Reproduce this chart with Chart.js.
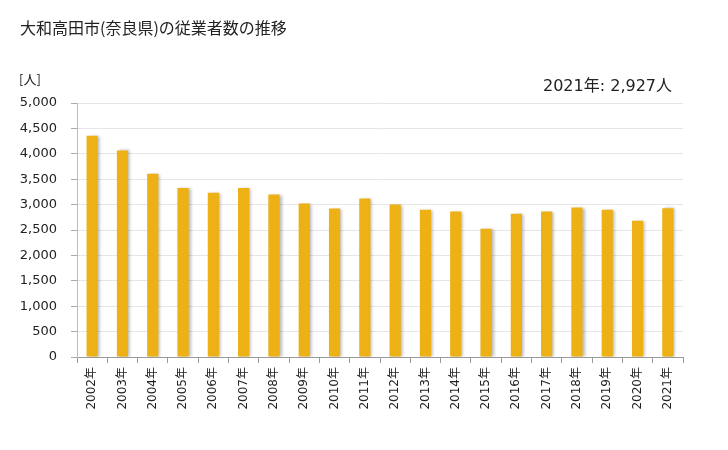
<!DOCTYPE html>
<html><head><meta charset="utf-8">
<script src="https://cdn.jsdelivr.net/npm/chart.js@4.4.1/dist/chart.umd.min.js"></script>
<style>html,body{margin:0;padding:0;background:#fff}#wrap{width:728px;height:450px;position:relative}</style>
</head><body><div id="wrap"><canvas id="c" width="728" height="450"></canvas></div>
<script>
const years = ["2002年","2003年","2004年","2005年","2006年","2007年","2008年","2009年","2010年","2011年","2012年","2013年","2014年","2015年","2016年","2017年","2018年","2019年","2020年","2021年"];
const workers = [4354,4065,3605,3328,3235,3328,3198,3020,2921,3119,3000,2901,2862,2526,2822,2862,2941,2901,2684,2927];
const titleText = "大和高田市(奈良県)の従業者数の推移";
const unitText = "[人]";
const noteText = "2021年: 2,927人";
const yMax = 5000, yStep = 500;

const jp = "'Noto Sans CJK JP', 'DejaVu Sans', sans-serif";
const mixed = "'DejaVu Sans', 'Noto Sans CJK JP', sans-serif";
const textPlugin = {
  id: 'texts',
  afterDraw(chart) {
    const ctx = chart.ctx;
    ctx.save();
    ctx.fillStyle = '#222';
    ctx.textBaseline = 'middle';
    ctx.font = "16px " + jp;
    ctx.textAlign = 'left';
    ctx.fillText(titleText, 20, 28);
    ctx.font = "13px " + jp;
    ctx.fillText(unitText, 19, 79);
    ctx.font = "16px " + mixed;
    ctx.textAlign = 'right';
    ctx.fillText(noteText, 672, 87);
    ctx.restore();
  }
};
const shadowPlugin = {
  id: 'shadow',
  beforeDatasetDraw(chart) {
    const ctx = chart.ctx;
    ctx.save();
    ctx.shadowColor = 'rgba(0,0,0,0.28)';
    ctx.shadowBlur = 3;
    ctx.shadowOffsetX = 2;
    ctx.shadowOffsetY = 0;
  },
  afterDatasetDraw(chart) { chart.ctx.restore(); }
};

new Chart(document.getElementById('c'), {
  type: 'bar',
  data: { labels: years, datasets: [{ data: workers, backgroundColor: '#edb015', borderWidth: 0, barPercentage: 0.74, categoryPercentage: 0.5 }] },
  options: {
    responsive: false, animation: false,
    layout: { padding: { left: 0, right: 45, top: 103, bottom: 0 } },
    plugins: { legend: { display: false }, tooltip: { enabled: false } },
    scales: {
      x: {
        grid: { display: true, drawOnChartArea: false, drawTicks: true, tickLength: 6, color: '#999' },
        border: { color: '#999' },
        ticks: { maxRotation: 90, minRotation: 90, color: '#222', font: { family: mixed, size: 12 }, padding: 4, autoSkip: false },
        afterFit(s) { s.height = 93; }
      },
      y: {
        min: 0, max: yMax,
        grid: { color: '#e6e6e6', tickColor: '#aaa', tickLength: 6, drawTicks: true },
        border: { color: '#bbb', display: true },
        ticks: { stepSize: yStep, color: '#222', font: { family: "'DejaVu Sans', sans-serif", size: 13 }, padding: 14,
          callback: v => v.toLocaleString('en-US') },
        afterFit(s) { s.width = 77; }
      }
    }
  },
  plugins: [textPlugin, shadowPlugin]
});
</script></body></html>
